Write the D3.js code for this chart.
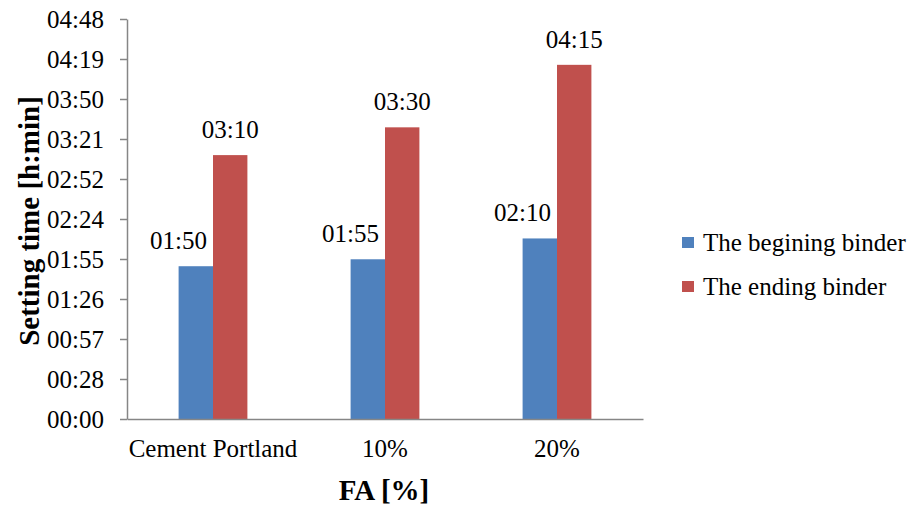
<!DOCTYPE html>
<html>
<head>
<meta charset="utf-8">
<script src="https://cdn.jsdelivr.net/npm/d3@7"></script>
<style>
  html, body { margin: 0; padding: 0; background: #fff; }
</style>
</head>
<body>
<svg id="chart" width="910" height="506" font-family="Liberation Serif"></svg>
<script>
// Setting times of the binder, as h:mm
const categories = ["Cement Portland", "10%", "20%"];
const seriesNames = ["The begining binder", "The ending binder"];
const beginingTimes = ["01:50", "01:55", "02:10"];
const endingTimes = ["03:10", "03:30", "04:15"];
const seriesColors = ["#4F81BD", "#C0504D"];

// Y axis ticks, in fractions of a day, with their printed labels
const yTickDays = [0, 0.02, 0.04, 0.06, 0.08, 0.10, 0.12, 0.14, 0.16, 0.18, 0.20];
const yTickLabels = ["00:00", "00:28", "00:57", "01:26", "01:55", "02:24",
                     "02:52", "03:21", "03:50", "04:19", "04:48"];

const FONT = "Liberation Serif";
const FS = 25;
const toMinutes = s => { const [h, m] = s.split(":").map(Number); return h * 60 + m; };
const rows = categories.map((c, i) => ({
  cat: c,
  values: [beginingTimes[i], endingTimes[i]].map((t, k) => ({ key: k, label: t, min: toMinutes(t) }))
}));

const svg = d3.select("#chart");
const m = { left: 127, right: 643, top: 19, bottom: 419 };

const x = d3.scaleBand().domain(categories).range([m.left, m.right]).paddingInner(0).paddingOuter(0);
const barW = 34.4;
const xSub = d3.scaleBand().domain([0, 1]).range([x.bandwidth() / 2 - barW, x.bandwidth() / 2 + barW]);
const y = d3.scaleLinear().domain([0, 0.2 * 1440]).range([m.bottom, m.top]);

const axisColor = "#868686";

// Y axis
const yAxis = svg.append("g")
  .attr("transform", `translate(${m.left},0)`)
  .call(d3.axisLeft(y)
    .tickValues(yTickDays.map(d => d * 1440))
    .tickFormat((d, i) => yTickLabels[i])
    .tickSize(7).tickSizeOuter(0).tickPadding(16));
yAxis.attr("font-family", FONT).attr("font-size", FS);
yAxis.select(".domain").attr("stroke", axisColor).attr("stroke-width", 1.5);
yAxis.selectAll(".tick line").attr("stroke", axisColor).attr("stroke-width", 1.5);
yAxis.selectAll(".tick text").attr("font-family", FONT).attr("font-size", FS).attr("fill", "#000");

// Bars
const groups = svg.append("g").selectAll("g").data(rows).join("g")
  .attr("transform", d => `translate(${x(d.cat)},0)`);

groups.selectAll("rect").data(d => d.values).join("rect")
  .attr("x", d => xSub(d.key))
  .attr("width", xSub.bandwidth())
  .attr("y", d => y(d.min))
  .attr("height", d => y(0) - y(d.min))
  .attr("fill", d => seriesColors[d.key]);

// Value labels: begining set over the bar's left edge, ending centred
groups.selectAll("text.val").data(d => d.values).join("text")
  .attr("class", "val")
  .attr("x", d => d.key === 0 ? xSub(d.key) : xSub(d.key) + xSub.bandwidth() / 2)
  .attr("y", d => y(d.min) - 17)
  .attr("text-anchor", "middle")
  .attr("font-family", FONT)
  .attr("font-size", FS)
  .text(d => d.label);

// X axis
const xAxis = svg.append("g")
  .attr("transform", `translate(0,${m.bottom})`)
  .call(d3.axisBottom(x).tickSize(0).tickSizeOuter(0).tickPadding(20));
xAxis.attr("font-family", FONT).attr("font-size", FS);
xAxis.select(".domain").attr("stroke", axisColor).attr("stroke-width", 1.5);
xAxis.selectAll(".tick text").attr("font-family", FONT).attr("font-size", FS).attr("fill", "#000");

// Axis titles
svg.append("text")
  .attr("x", (m.left + m.right) / 2 - 1)
  .attr("y", 500)
  .attr("text-anchor", "middle")
  .attr("font-family", FONT)
  .attr("font-size", 29).attr("font-weight", "bold")
  .text("FA [%]");

svg.append("text")
  .attr("transform", "translate(39,221) rotate(-90)")
  .attr("text-anchor", "middle")
  .attr("font-family", FONT)
  .attr("font-size", 29).attr("font-weight", "bold")
  .text("Setting time [h:min]");

// Legend
const legend = svg.append("g").attr("transform", "translate(682,243)");
const li = legend.selectAll("g").data(seriesNames).join("g")
  .attr("transform", (d, i) => `translate(0,${i * 44})`);
li.append("rect").attr("x", 0).attr("y", -6).attr("width", 12).attr("height", 11)
  .attr("fill", (d, i) => seriesColors[i]);
li.append("text").attr("x", 21).attr("y", 8)
  .attr("font-family", FONT).attr("font-size", FS).text(d => d);
</script>
</body>
</html>
